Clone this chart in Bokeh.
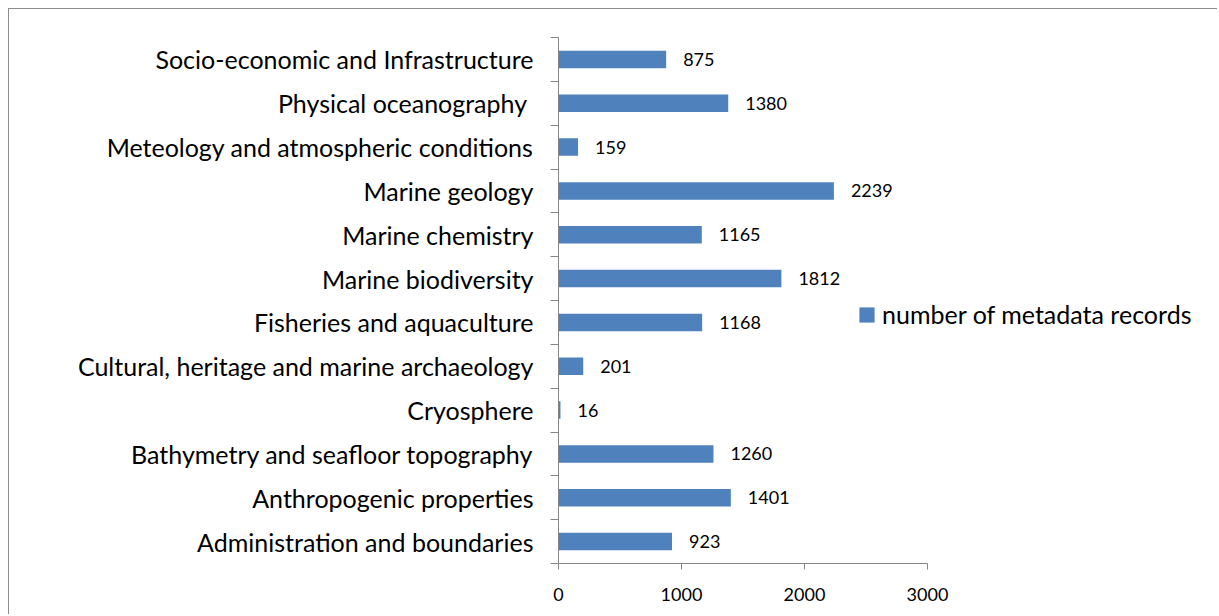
from bokeh.plotting import figure
from bokeh.models import Range1d, FixedTicker, Legend, LegendItem
from bokeh.core.properties import value
from bokeh.embed import file_html
from bokeh.resources import INLINE

# Data (bottom to top)
categories = [
    "Administration and boundaries",
    "Anthropogenic properties",
    "Bathymetry and seafloor topography",
    "Cryosphere",
    "Cultural, heritage and marine archaeology",
    "Fisheries and aquaculture",
    "Marine biodiversity",
    "Marine chemistry",
    "Marine geology",
    "Meteology and atmospheric conditions",
    "Physical oceanography ",
    "Socio-economic and Infrastructure",
]
records = [923, 1401, 1260, 16, 201, 1168, 1812, 1165, 2239, 159, 1380, 875]
x_ticks = [0, 1000, 2000, 3000]
series_name = "number of metadata records"

FONT = "Lato"
BAR = "#4F81BD"
AXIS = "#868686"

n = len(categories)
centers = [i + 0.5 for i in range(n)]
bounds = list(range(n + 1))

W, H = 1209, 606
LEFT, TOP, FH = 549, 28, 526
AX_PX = 369  # pixels spanned by the 0..3000 axis
frame_w = W - LEFT
x_end = x_ticks[-1] * frame_w / AX_PX

p = figure(
    width=W, height=H,
    x_range=Range1d(0, x_end), y_range=Range1d(0, n),
    output_backend="svg", toolbar_location=None,
    min_border_left=LEFT, min_border_right=0,
    min_border_top=TOP, min_border_bottom=H - TOP - FH,
)
p.styles = {"margin-left": "8px", "margin-top": "8px",
            "border-left": "1px solid #8c8c8c", "border-top": "1px solid #8c8c8c"}
p.outline_line_color = None
p.background_fill_color = "white"
p.border_fill_color = "white"
p.xgrid.visible = False
p.ygrid.visible = False

bars = p.hbar(y=centers, right=records, left=0, height=0.4,
              fill_color=BAR, line_color=None)

p.text(x=records, y=centers, text=[str(v) for v in records],
       x_offset=17, text_baseline="middle", text_align="left",
       text_font=value(FONT), text_font_size="18px", text_color="black")

# X axis
xa = p.xaxis[0]
xa.ticker = FixedTicker(ticks=x_ticks, minor_ticks=[])
xa.bounds = (x_ticks[0], x_ticks[-1])
xa.axis_line_color = AXIS
xa.major_tick_line_color = AXIS
xa.major_tick_out = 6
xa.major_tick_in = 0
xa.minor_tick_line_color = None
xa.major_label_text_font = FONT
xa.major_label_text_font_size = "18px"
xa.major_label_text_color = "black"
xa.major_label_standoff = 18

# Y axis
ya = p.yaxis[0]
ya.ticker = FixedTicker(ticks=centers, minor_ticks=bounds)
ya.major_label_overrides = {c: lab for c, lab in zip(centers, categories)}
ya.axis_line_color = AXIS
ya.major_tick_line_color = None
ya.major_tick_out = 0
ya.major_tick_in = 0
ya.minor_tick_line_color = AXIS
ya.minor_tick_out = 8
ya.minor_tick_in = 0
ya.major_label_text_font = FONT
ya.major_label_text_font_size = "25px"
ya.major_label_text_color = "black"
ya.major_label_standoff = 17

legend = Legend(
    items=[LegendItem(label=series_name, renderers=[bars])],
    location=(299, 234),
    glyph_width=19, glyph_height=19, label_standoff=6,
    padding=0, margin=0, spacing=0,
    border_line_color=None, background_fill_alpha=0,
    label_text_font=FONT, label_text_font_size="25px", label_text_color="black",
)
p.add_layout(legend, "center")

open("out.html", "w").write(file_html(p, INLINE))
